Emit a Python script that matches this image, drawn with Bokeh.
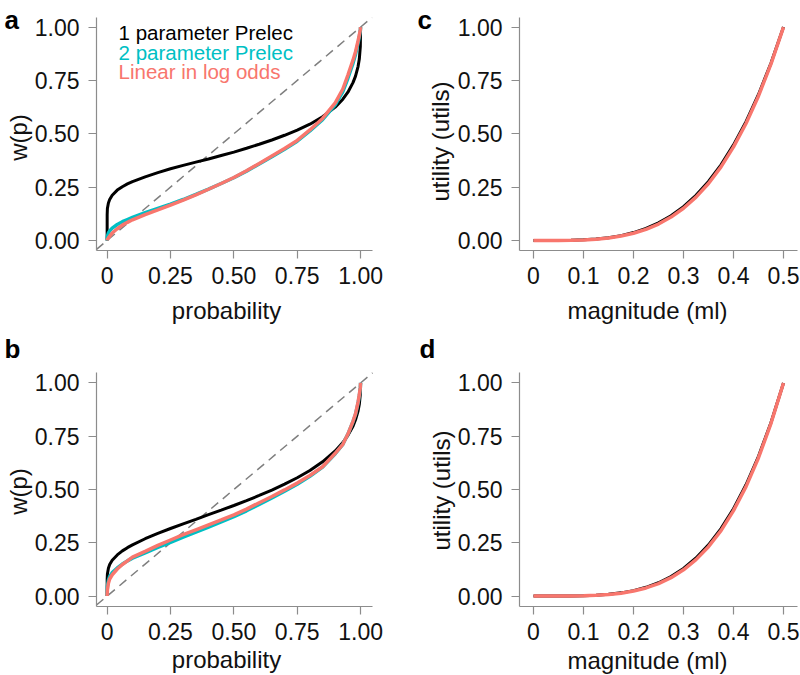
from bokeh.plotting import figure
from bokeh.models import FixedTicker, Label, Range1d
from bokeh.layouts import column, row
from bokeh.embed import file_html
from bokeh.resources import INLINE
import math

# ---------------- data ----------------
prob = [0, 0.0001, 0.001, 0.005, 0.01, 0.02, 0.04, 0.06, 0.08, 0.1,
        0.15, 0.2, 0.25, 0.3, 0.35, 0.4, 0.45, 0.5, 0.55, 0.6, 0.65, 0.7,
        0.75, 0.8, 0.85, 0.9, 0.93, 0.95, 0.97, 0.98, 0.99, 0.995, 0.999, 1.0]

# panel a
a_prelec1 = [0, .12, .15, .176, .192, .212, .236, .252, .265, .276,
             .298, .318, .336, .352, .367, .382, .398, .414, .432, .451, .471, .493,
             .517, .545, .58, .625, .662, .695, .74, .77, .815, .85, .91, 1]
a_prelec2 = [0, .012, .02, .035, .045, .058, .075, .088, .098, .108,
             .13, .15, .17, .192, .216, .241, .267, .294, .325, .358, .392, .427,
             .465, .513, .566, .636, .698, .76, .83, .872, .925, .955, .985, 1]
a_llo = [0, .002, .005, .012, .02, .035, .055, .072, .085, .097,
         .121, .143, .166, .189, .214, .240, .267, .295, .327, .361, .396, .431,
         .469, .518, .572, .645, .71, .775, .845, .885, .935, .962, .99, 1]

# panel b
b_prelec1 = [0, .077, .103, .131, .148, .168, .193, .212, .227, .240,
             .269, .294, .317, .339, .360, .382, .403, .425, .448, .472, .497, .525,
             .555, .589, .630, .681, .720, .754, .797, .827, .868, .900, .948, 1]
b_prelec2 = [0, .02, .045, .075, .092, .11, .132, .15, .165, .178,
             .203, .228, .252, .277, .300, .324, .348, .373, .400, .43, .46, .492,
             .525, .562, .605, .668, .712, .76, .818, .853, .905, .94, .978, 1]
b_llo = [0, .01, .03, .06, .08, .10, .127, .148, .165, .183,
         .21, .238, .263, .288, .311, .334, .357, .381, .408, .438, .467, .498,
         .53, .566, .607, .67, .712, .76, .82, .855, .91, .945, .98, 1]

# panels c, d
magnitude = [0, .025, .05, .075, .1, .125, .15, .175, .2, .225, .25,
             .275, .3, .325, .35, .375, .4, .425, .45, .475, .5]
c_black = [0, 0, .0003, .0011, .0031, .0068, .0131, .0228, .037, .0564, .0825,
           .1162, .1588, .2119, .2767, .3546, .448, .557, .6843, .8314, 1]
c_llo = [0, 0, .0002, .0009, .0026, .006, .0117, .0206, .0339, .0522, .0771,
         .1096, .1511, .2031, .2671, .3447, .4384, .5481, .6772, .8272, 1]
d_black = [0, 0, .0001, .0005, .0016, .0039, .0081, .015, .0256, .041, .0625,
           .0915, .1296, .1785, .2401, .3164, .4096, .522, .6561, .8145, 1]
d_llo = [0, 0, .0001, .0004, .0014, .0035, .0072, .0136, .0234, .038, .0585,
         .0863, .1233, .171, .2317, .3073, .4007, .5137, .6492, .8104, 1]

prob_ticks = [0, 0.25, 0.5, 0.75, 1.0]
prob_tick_labels = ["0", "0.25", "0.50", "0.75", "1.00"]
w_ticks = [0, 0.25, 0.5, 0.75, 1.0]
w_tick_labels = ["0.00", "0.25", "0.50", "0.75", "1.00"]
mag_ticks = [0, 0.1, 0.2, 0.3, 0.4, 0.5]
mag_tick_labels = ["0", "0.1", "0.2", "0.3", "0.4", "0.5"]

legend_labels = ["1 parameter Prelec", "2 parameter Prelec", "Linear in log odds"]
BLACK = "#000000"
CYAN = "#00BFC4"
SALMON = "#F8766D"
legend_colors = [BLACK, CYAN, SALMON]

FONT = "Liberation Sans"
AXIS_GREY = "#8c8c8c"
TEXT = "#111111"

# ---------------- layout geometry (page pixels) ----------------
PROB_LIM = (-0.042, 1.047)
MAG_LIM = (-0.028, 0.528)
TOP_LIM = (-0.047, 1.045)
BOT_LIM = (-0.049, 1.049)


def full_ranges(canvas, box, xlim, ylim):
    cx0, cy0, cx1, cy1 = canvas
    bx0, by0, bx1, by1 = box
    sx = (bx1 - bx0) / (xlim[1] - xlim[0])
    sy = (by1 - by0) / (ylim[1] - ylim[0])
    xr = (xlim[0] - (bx0 - cx0) / sx, xlim[1] + (cx1 - bx1) / sx)
    yr = (ylim[0] - (cy1 - by1) / sy, ylim[1] + (by0 - cy0) / sy)
    return xr, yr


def make_panel(canvas, box, xlim, ylim, xticks, xlabels, yticks, ylabels):
    xr, yr = full_ranges(canvas, box, xlim, ylim)
    w = canvas[2] - canvas[0]
    h = canvas[3] - canvas[1]
    p = figure(width=w, height=h, x_range=Range1d(*xr), y_range=Range1d(*yr),
               output_backend="svg", toolbar_location=None,
               min_border=0, min_border_left=0, min_border_right=0,
               min_border_top=0, min_border_bottom=0)
    p.outline_line_color = None
    p.grid.visible = False
    p.background_fill_color = "white"
    p.border_fill_color = "white"
    xa, ya = p.xaxis[0], p.yaxis[0]
    xa.fixed_location = ylim[0]
    ya.fixed_location = xlim[0]
    xa.bounds = xlim
    ya.bounds = ylim
    for ax in (xa, ya):
        ax.axis_line_color = AXIS_GREY
        ax.axis_line_width = 1.2
        ax.major_tick_line_color = AXIS_GREY
        ax.major_tick_line_width = 1.2
        ax.major_tick_out = 8
        ax.major_tick_in = 0
        ax.minor_tick_line_color = None
        ax.major_label_text_font = FONT
        ax.major_label_text_font_size = "23px"
        ax.major_label_text_color = TEXT
    xa.ticker = FixedTicker(ticks=xticks)
    xa.major_label_overrides = {t: l for t, l in zip(xticks, xlabels)}
    ya.ticker = FixedTicker(ticks=yticks)
    ya.major_label_overrides = {t: l for t, l in zip(yticks, ylabels)}
    xa.major_label_standoff = 8
    ya.major_label_standoff = 9
    return p


def add_text(p, text, x, y, size, align="center", baseline="alphabetic", angle=0.0,
             bold=False, units="screen", color=TEXT):
    p.add_layout(Label(x=x, y=y, x_units=units, y_units=units, text=text,
                       text_font=FONT, text_font_size=size, text_align=align,
                       text_baseline=baseline, angle=angle, text_color=color,
                       text_font_style="bold" if bold else "normal"))


pa = make_panel((0, 0, 400, 325), (96, 17, 372, 250), PROB_LIM, TOP_LIM,
                prob_ticks, prob_tick_labels, w_ticks, w_tick_labels)
pb = make_panel((0, 325, 400, 675), (96, 372, 372, 606), PROB_LIM, BOT_LIM,
                prob_ticks, prob_tick_labels, w_ticks, w_tick_labels)
pc = make_panel((400, 0, 800, 325), (519, 17, 797, 250), MAG_LIM, TOP_LIM,
                mag_ticks, mag_tick_labels, w_ticks, w_tick_labels)
pd = make_panel((400, 325, 800, 675), (519, 372, 797, 606), MAG_LIM, BOT_LIM,
                mag_ticks, mag_tick_labels, w_ticks, w_tick_labels)

for p, s1, s2, s3, ylim in ((pa, a_prelec1, a_prelec2, a_llo, TOP_LIM),
                            (pb, b_prelec1, b_prelec2, b_llo, BOT_LIM)):
    # identity (y = x) reference line across the plotting region
    diag = [max(PROB_LIM[0], ylim[0]), min(PROB_LIM[1], ylim[1])]
    p.line(diag, diag, line_color="#7f7f7f", line_width=1.5, line_dash="9 6")
    p.line(prob, s1, line_color=BLACK, line_width=3)
    p.line(prob, s2, line_color=CYAN, line_width=3.5)
    p.line(prob, s3, line_color=SALMON, line_width=3.5)

for p, s1, s3 in ((pc, c_black, c_llo), (pd, d_black, d_llo)):
    p.line(magnitude, s1, line_color=BLACK, line_width=3)
    p.line(magnitude, s3, line_color=SALMON, line_width=3.5)

# legend in panel a
for lbl, col, yv in zip(legend_labels, legend_colors, [0.977, 0.883, 0.794]):
    add_text(pa, lbl, 0.045, yv, "20.5px", align="left", units="data", color=col)

# axis titles (canvas-relative screen positions, y measured up from canvas bottom)
add_text(pa, "probability", 226, 15, "24px")
add_text(pb, "probability", 226, 16, "24px")
add_text(pc, "magnitude (ml)", 247, 15, "24px")
add_text(pd, "magnitude (ml)", 247, 15, "24px")
add_text(pa, "w(p)", 18, 188, "24px", angle=math.pi / 2)
add_text(pb, "w(p)", 18, 184, "24px", angle=math.pi / 2)
add_text(pc, "utility (utils)", 40, 184, "24px", angle=math.pi / 2)
add_text(pd, "utility (utils)", 41, 185, "24px", angle=math.pi / 2)

# panel letters
add_text(pa, "a", 4, 306, "26px", align="left", bold=True, color="#000000")
add_text(pb, "b", 4, 327, "26px", align="left", bold=True, color="#000000")
add_text(pc, "c", 17, 306, "26px", align="left", bold=True, color="#000000")
add_text(pd, "d", 19, 327, "26px", align="left", bold=True, color="#000000")

layout = column(row(pa, pc), row(pb, pd))
open("out.html", "w").write(file_html(layout, INLINE))
